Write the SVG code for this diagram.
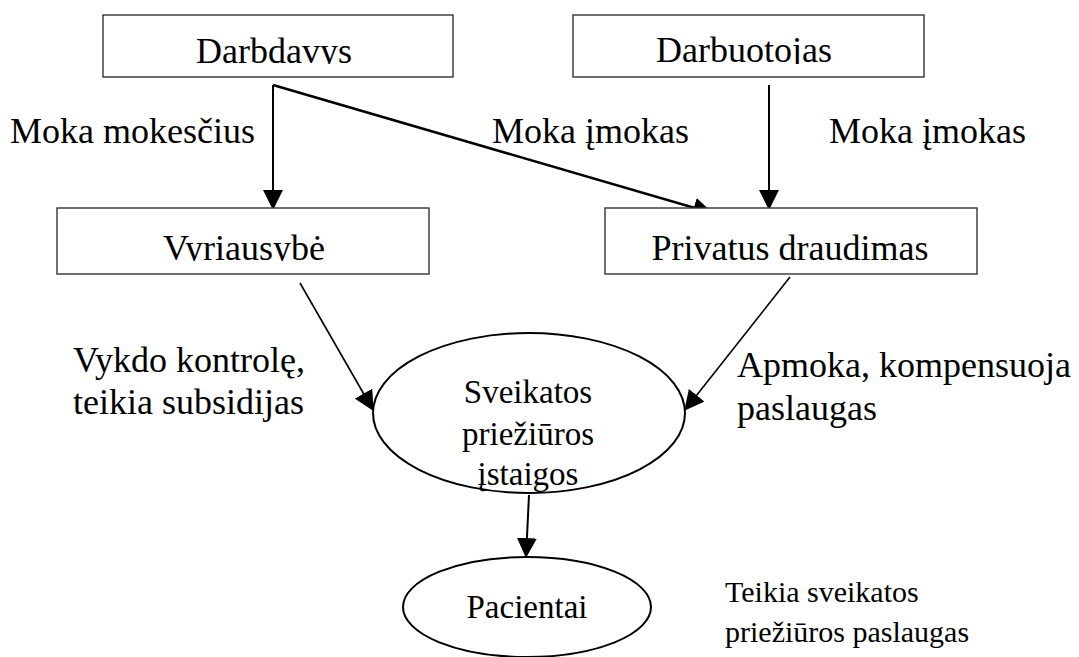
<svg xmlns="http://www.w3.org/2000/svg" width="1079" height="657" viewBox="0 0 1079 657">
  <style>
    text { font-family: "Liberation Serif", "Times New Roman", serif; fill: #000; }
    .box { fill: #fff; stroke: #333; stroke-width: 1.4; }
    .oval { fill: #fff; stroke: #000; stroke-width: 2; }
    .lbl { font-size: 36px; }
    .node { font-size: 36px; text-anchor: middle; }
    .inner { font-size: 33px; text-anchor: middle; }
    .note { font-size: 30px; }
    .edge { fill: none; stroke: #000; stroke-width: 2; }
    .edge-bold { fill: none; stroke: #000; stroke-width: 2.6; }
    .edge-thin { fill: none; stroke: #000; stroke-width: 1.6; }
  </style>
  <defs>
    <marker id="head" markerUnits="userSpaceOnUse" markerWidth="20" markerHeight="20" viewBox="0 0 18 18" refX="17" refY="9" orient="auto">
      <path d="M0,0 L18,9 L0,18 Z" fill="#000"/>
    </marker>
    <clipPath id="clipEmployer"><rect x="103" y="15" width="350" height="49"/></clipPath>
    <clipPath id="clipEmployee"><rect x="573" y="15" width="351" height="49"/></clipPath>
    <clipPath id="clipGov"><rect x="57" y="208" width="372" height="53"/></clipPath>
  </defs>

  <rect width="1079" height="657" fill="#fff"/>

  <!-- connectors -->
  <g id="connectors">
    <path class="edge" d="M273,85 L273,209" marker-end="url(#head)"/>
    <path class="edge-bold" d="M273,85 L712,213" marker-end="url(#head)"/>
    <path class="edge" d="M769,85 L769,209" marker-end="url(#head)"/>
    <path class="edge-thin" d="M300,283 L373,410" marker-end="url(#head)"/>
    <path class="edge-thin" d="M790,277 L685,410" marker-end="url(#head)"/>
    <path class="edge" d="M529,495 L526,557" marker-end="url(#head)"/>
  </g>

  <!-- edge labels -->
  <g id="labels">
    <text class="lbl" x="10" y="143">Moka mokesčius</text>
    <text class="lbl" x="492" y="143">Moka įmokas</text>
    <text class="lbl" x="829" y="143">Moka įmokas</text>
    <text class="lbl" x="73" y="372">Vykdo kontrolę,</text>
    <text class="lbl" x="73" y="414">teikia subsidijas</text>
    <text class="lbl" x="737" y="377">Apmoka, kompensuoja</text>
    <text class="lbl" x="737" y="420">paslaugas</text>
    <text class="note" x="725" y="602">Teikia sveikatos</text>
    <text class="note" x="725" y="642">priežiūros paslaugas</text>
  </g>

  <g id="employer">
    <rect class="box" x="103" y="15" width="350" height="62"/>
    <text class="node" x="274" y="63" clip-path="url(#clipEmployer)">Darbdavys</text>
  </g>

  <g id="employee">
    <rect class="box" x="573" y="15" width="351" height="62"/>
    <text class="node" x="744" y="62" clip-path="url(#clipEmployee)">Darbuotojas</text>
  </g>

  <g id="government">
    <rect class="box" x="57" y="208" width="372" height="66"/>
    <text class="node" x="244" y="260" clip-path="url(#clipGov)">Vyriausybė</text>
  </g>

  <g id="private-insurance">
    <rect class="box" x="605" y="208" width="372" height="66"/>
    <text class="node" x="790" y="260">Privatus draudimas</text>
  </g>

  <g id="healthcare-institutions">
    <ellipse class="oval" cx="529" cy="413" rx="156" ry="80"/>
    <text class="inner" x="528" y="403">Sveikatos</text>
    <text class="inner" x="528" y="445">priežiūros</text>
    <text class="inner" x="528" y="485">įstaigos</text>
  </g>

  <g id="patients">
    <ellipse class="oval" cx="527" cy="607" rx="124" ry="50"/>
    <text class="inner" x="527" y="618">Pacientai</text>
  </g>
</svg>
